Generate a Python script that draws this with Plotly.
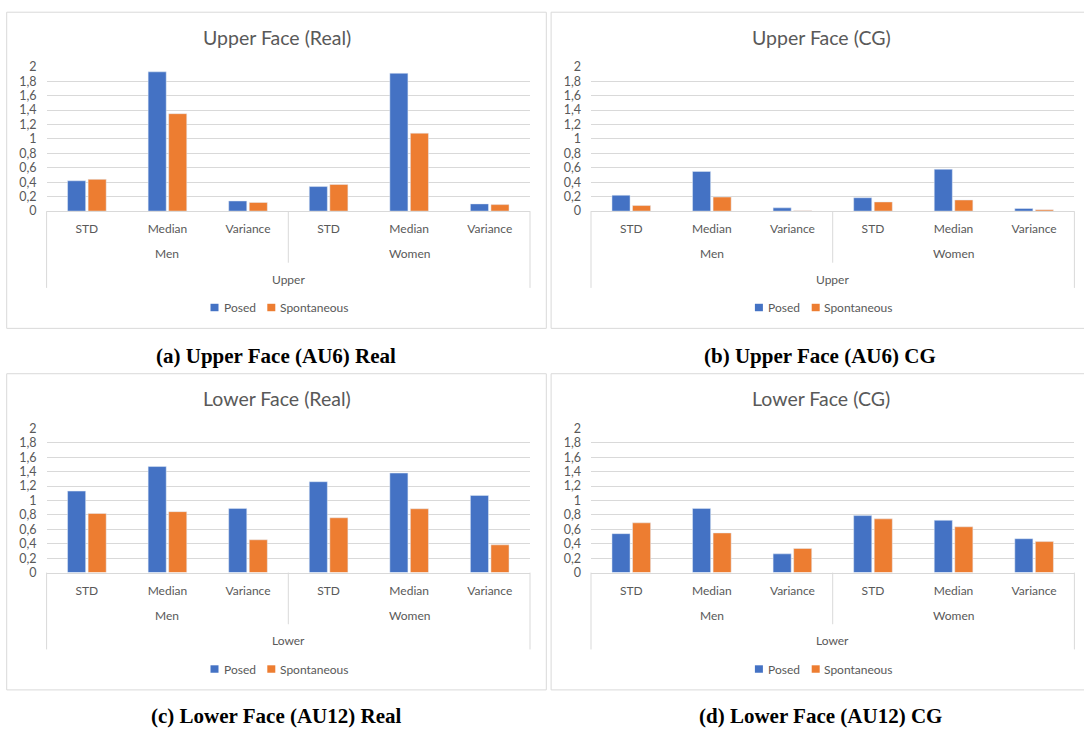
import plotly.graph_objects as go

# ---------------- data ----------------
genders = ["Men", "Women"]
stats = ["STD", "Median", "Variance"]
series_names = ["Posed", "Spontaneous"]

upper_real_posed = [0.42, 1.93, 0.14, 0.34, 1.91, 0.10]
upper_real_spont = [0.44, 1.35, 0.12, 0.37, 1.08, 0.09]
upper_cg_posed = [0.22, 0.55, 0.045, 0.185, 0.58, 0.036]
upper_cg_spont = [0.077, 0.195, 0.005, 0.127, 0.154, 0.018]
lower_real_posed = [1.13, 1.47, 0.89, 1.26, 1.38, 1.07]
lower_real_spont = [0.82, 0.845, 0.455, 0.76, 0.885, 0.385]
lower_cg_posed = [0.54, 0.89, 0.26, 0.79, 0.725, 0.47]
lower_cg_spont = [0.69, 0.55, 0.335, 0.745, 0.635, 0.43]

panel_titles = ["Upper Face (Real)", "Upper Face (CG)", "Lower Face (Real)", "Lower Face (CG)"]
panel_groups = ["Upper", "Upper", "Lower", "Lower"]
captions = ["(a) Upper Face (AU6) Real", "(b) Upper Face (AU6) CG",
            "(c) Lower Face (AU12) Real", "(d) Lower Face (AU12) CG"]
y_ticks = [0, 0.2, 0.4, 0.6, 0.8, 1, 1.2, 1.4, 1.6, 1.8, 2]

# ---------------- style ----------------
W, H = 1084, 740
BLUE = "#4472C4"
ORANGE = "#ED7D31"
GRID = "#D9D9D9"
TXT = "#595959"
FONT = "Lato"
SERIF = "Liberation Serif"


def fx(px):
    return px / W


def fy(py):
    return 1 - py / H


cat_ids = [f"{g}|{s}" for g in genders for s in stats]
cat_text = [s for g in genders for s in stats]

panel_data = [
    (upper_real_posed, upper_real_spont),
    (upper_cg_posed, upper_cg_spont),
    (lower_real_posed, lower_real_spont),
    (lower_cg_posed, lower_cg_spont),
]
offsets = [(0, 0), (544.4, 0), (0, 369), (544.4, 369)]

fig = go.Figure()
shapes = []
annotations = []
layout_axes = {}

for i, ((posed, spont), (dx, dy)) in enumerate(zip(panel_data, offsets)):
    sfx = "" if i == 0 else str(i + 1)
    xa, ya = "x" + sfx, "y" + sfx
    fig.add_trace(go.Bar(x=cat_ids, y=posed, name=series_names[0], marker_color=BLUE,
                         xaxis=xa, yaxis=ya, showlegend=False))
    fig.add_trace(go.Bar(x=cat_ids, y=spont, name=series_names[1], marker_color=ORANGE,
                         xaxis=xa, yaxis=ya, showlegend=False))

    left, right = 46.6 + dx, 530 + dx
    top, bottom = 60 + dy, 207.3 + dy
    layout_axes["xaxis" + sfx] = dict(
        domain=[fx(left), fx(min(right, W))], anchor=ya, type="category",
        tickvals=cat_ids, ticktext=cat_text, showline=True, linecolor=GRID, linewidth=1,
        ticks="", showgrid=False, zeroline=False, ticklabelstandoff=7,
        tickfont=dict(family=FONT, size=12, color=TXT), fixedrange=True)
    layout_axes["yaxis" + sfx] = dict(
        domain=[fy(bottom), fy(top)], anchor=xa, range=[0, 2], tickvals=y_ticks,
        showgrid=True, gridcolor=GRID, gridwidth=1, zeroline=False, showline=False,
        ticks="", ticklabelstandoff=9,
        tickfont=dict(family=FONT, size=12.5, color=TXT), fixedrange=True)

    # chart border (right-hand panels are cut off by the page edge)
    shapes.append(dict(type="rect", xref="paper", yref="paper",
                       x0=fx(6.7 + dx), x1=fx(min(546.3 + dx, W + 6)), y0=fy(327 + dy), y1=fy(4.3 + dy),
                       line=dict(color=GRID, width=1), fillcolor="rgba(0,0,0,0)", layer="below"))
    # category dividers
    for xd, yb in [(0, 285.7), (0.5, 260), (1, 285.7)]:
        shapes.append(dict(type="line", xref=xa + " domain", yref="paper",
                           x0=xd, x1=xd, y0=fy(bottom), y1=fy(yb + dy),
                           line=dict(color=GRID, width=1)))
    # title
    annotations.append(dict(text=panel_titles[i], xref="paper", yref="paper",
                            x=fx(277 + dx), y=fy(30 + dy), showarrow=False,
                            xanchor="center", yanchor="middle",
                            font=dict(family=FONT, size=19.5, color=TXT)))
    # gender labels
    for gi, g in enumerate(genders):
        annotations.append(dict(text=g, xref=xa + " domain", yref="paper",
                                x=0.25 + 0.5 * gi, y=fy(251 + dy), showarrow=False,
                                xanchor="center", yanchor="middle",
                                font=dict(family=FONT, size=12, color=TXT)))
    # group label
    annotations.append(dict(text=panel_groups[i], xref=xa + " domain", yref="paper",
                            x=0.5, y=fy(277 + dy), showarrow=False,
                            xanchor="center", yanchor="middle",
                            font=dict(family=FONT, size=12, color=TXT)))
    # legend
    ly = 305.7 + dy
    for sq_x, txt_x, col, name in [(210.5, 221.5, BLUE, series_names[0]),
                                   (267.3, 277.7, ORANGE, series_names[1])]:
        shapes.append(dict(type="rect", xref="paper", yref="paper",
                           x0=fx(sq_x + dx), x1=fx(sq_x + 8 + dx),
                           y0=fy(ly + 3.8), y1=fy(ly - 3.8),
                           line=dict(width=0), fillcolor=col))
        annotations.append(dict(text=name, xref="paper", yref="paper",
                                x=fx(txt_x + dx), y=fy(ly), showarrow=False,
                                xanchor="left", yanchor="middle",
                                font=dict(family=FONT, size=12, color=TXT)))
    # caption
    annotations.append(dict(text="<b>" + captions[i] + "</b>", xref="paper", yref="paper",
                            x=fx(276 + (544 if dx else 0)), y=fy(355 + (368 if dy else 0)),
                            showarrow=False, xanchor="center", yanchor="middle",
                            font=dict(family=SERIF, size=21, color="#000000")))

fig.update_layout(
    width=W, height=H, autosize=False,
    margin=dict(l=0, r=0, t=0, b=0),
    paper_bgcolor="white", plot_bgcolor="white",
    barmode="group", bargap=0.49, bargroupgap=0.12,
    separators=", ",
    showlegend=False,
    shapes=shapes, annotations=annotations,
    **layout_axes,
)

fig.write_html(
    "out.html",
    config={"displayModeBar": False},
    post_script=(
        "document.documentElement.style.margin='0';"
        "document.documentElement.style.padding='0';"
        "document.documentElement.style.overflow='hidden';"
        "document.body.style.margin='0';"
        "document.body.style.padding='0';"
        "document.body.style.overflow='hidden';"
        "var gd=document.getElementById('{plot_id}');"
        "gd.style.position='fixed';gd.style.top='0px';gd.style.left='0px';"
    ),
)
